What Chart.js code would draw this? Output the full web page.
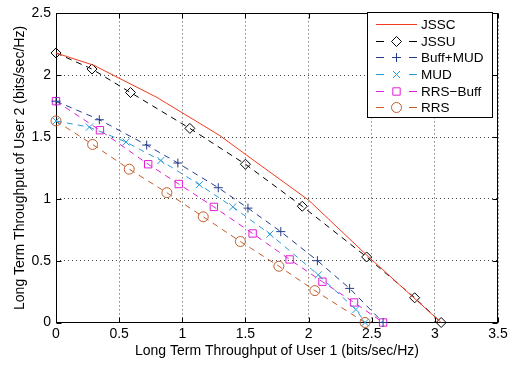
<!DOCTYPE html>
<html lang="en">
<head>
<meta charset="UTF-8">
<title>Long Term Throughput Region</title>
<script src="https://cdn.jsdelivr.net/npm/chart.js"></script>
<style>
  body { margin: 0; background: #fff; }
  .wrap { position: relative; width: 518px; height: 367px; }
</style>
</head>
<body>
<div class="wrap"><canvas id="chart" width="518" height="367"></canvas></div>
<script>
// Values (x = user 1, y = user 2, bits/sec/Hz)
const seriesNames = ['JSSC', 'JSSU', 'Buff+MUD', 'MUD', 'RRS\u2212Buff', 'RRS'];

const jsscX = [0, 0.3, 0.8, 1.3, 1.5, 2.0, 2.46, 3.05];
const jsscY = [2.18, 2.08, 1.82, 1.51, 1.36, 0.99, 0.545, 0];

const jssuX = [0, 0.285, 0.59, 1.06, 1.5, 1.95, 2.46, 2.84, 3.05];
const jssuY = [2.18, 2.05, 1.86, 1.57, 1.28, 0.94, 0.53, 0.2, 0];

const buffMudX = [0, 0.343, 0.718, 0.965, 1.285, 1.52, 1.78, 2.07, 2.325, 2.59];
const buffMudY = [1.79, 1.64, 1.435, 1.29, 1.09, 0.925, 0.735, 0.5, 0.276, 0];

const mudX = [0, 0.264, 0.554, 0.83, 1.135, 1.40, 1.694, 2.077, 2.375, 2.447];
const mudY = [1.63, 1.58, 1.46, 1.31, 1.115, 0.935, 0.715, 0.385, 0.105, 0];

const rrsBuffX = [0, 0.348, 0.73, 0.972, 1.25, 1.557, 1.85, 2.11, 2.36, 2.59];
const rrsBuffY = [1.79, 1.555, 1.28, 1.12, 0.935, 0.72, 0.51, 0.33, 0.162, 0];

const rrsX = [0, 0.29, 0.58, 0.878, 1.166, 1.46, 1.765, 2.05, 2.447];
const rrsY = [1.63, 1.44, 1.24, 1.05, 0.855, 0.655, 0.455, 0.258, 0];

const xTicks = [0, 0.5, 1, 1.5, 2, 2.5, 3, 3.5];
const yTicks = [0, 0.5, 1, 1.5, 2, 2.5];

const FONT = "Arial, 'Liberation Sans', Helvetica, sans-serif";

// line + marker style per series
const looks = [
  { color: '#f03c1e', dash: [], marker: null, r: 0 },
  { color: '#000000', dash: [6, 5], marker: 'rectRot', r: 5 },
  { color: '#213c8c', dash: [6, 5], marker: 'cross', r: 4.5 },
  { color: '#2b9bd8', dash: [6, 5], marker: 'crossRot', r: 5 },
  { color: '#e01ed6', dash: [6, 5], marker: 'rect', r: 5.2 },
  { color: '#c45c28', dash: [6, 5], marker: 'circle', r: 5 }
];

function pts(xs, ys) {
  return xs.map((v, i) => ({ x: v, y: ys[i] }));
}

const seriesData = [
  pts(jsscX, jsscY), pts(jssuX, jssuY), pts(buffMudX, buffMudY),
  pts(mudX, mudY), pts(rrsBuffX, rrsBuffY), pts(rrsX, rrsY)
];

const datasets = seriesData.map((d, i) => ({
  label: seriesNames[i],
  data: d,
  showLine: true,
  clip: false,
  borderColor: looks[i].color,
  borderWidth: 1,
  borderDash: looks[i].dash,
  pointStyle: looks[i].marker || 'circle',
  pointRadius: looks[i].r,
  pointBorderWidth: 1,
  pointBorderColor: looks[i].color,
  pointBackgroundColor: 'rgba(0,0,0,0)',
  tension: 0
}));

// small marker painter for the legend
function marker(ctx, style, x, y, r) {
  ctx.beginPath();
  if (style === 'rectRot') {
    ctx.moveTo(x - r, y); ctx.lineTo(x, y - r); ctx.lineTo(x + r, y); ctx.lineTo(x, y + r); ctx.closePath();
  } else if (style === 'cross') {
    ctx.moveTo(x - r, y); ctx.lineTo(x + r, y); ctx.moveTo(x, y - r); ctx.lineTo(x, y + r);
  } else if (style === 'crossRot') {
    const o = r * Math.SQRT1_2;
    ctx.moveTo(x - o, y - o); ctx.lineTo(x + o, y + o); ctx.moveTo(x + o, y - o); ctx.lineTo(x - o, y + o);
  } else if (style === 'rect') {
    const o = r * Math.SQRT1_2;
    ctx.rect(x - o, y - o, 2 * o, 2 * o);
  } else if (style === 'circle') {
    ctx.arc(x, y, r, 0, Math.PI * 2);
  }
  ctx.stroke();
}

// box, inward ticks on all sides, legend
const frame = {
  id: 'frame',
  beforeDatasetsDraw(chart) {
    const { ctx, chartArea: a, scales: { x, y } } = chart;
    ctx.save();
    ctx.strokeStyle = '#000';
    ctx.lineWidth = 1;
    ctx.setLineDash([]);
    const L = Math.round(a.left) + 0.5, R = Math.round(a.right) - 0.5;
    const T = Math.round(a.top) + 0.5, B = Math.round(a.bottom) - 0.5;
    ctx.strokeRect(L, T, R - L, B - T);
    ctx.beginPath();
    xTicks.forEach(v => {
      const p = Math.round(x.getPixelForValue(v)) + 0.5;
      ctx.moveTo(p, B); ctx.lineTo(p, B - 5);
      ctx.moveTo(p, T); ctx.lineTo(p, T + 5);
    });
    yTicks.forEach(v => {
      const p = Math.round(y.getPixelForValue(v)) + 0.5;
      ctx.moveTo(L, p); ctx.lineTo(L + 5, p);
      ctx.moveTo(R, p); ctx.lineTo(R - 5, p);
    });
    ctx.stroke();
    ctx.restore();
  },
  afterDraw(chart) {
    const { ctx } = chart;
    ctx.save();
    ctx.lineWidth = 1;
    ctx.setLineDash([]);
    // legend box
    const bx = 367.5, by = 12.5, bw = 125, bh = 105;
    ctx.fillStyle = '#fff';
    ctx.strokeStyle = '#000';
    ctx.fillRect(bx, by, bw, bh);
    ctx.strokeRect(bx, by, bw, bh);
    ctx.font = '13.5px ' + FONT;
    ctx.textBaseline = 'middle';
    ctx.textAlign = 'left';
    seriesNames.forEach((name, i) => {
      const ry = Math.round(24 + i * 16.65) + 0.5;
      const c = looks[i].color;
      ctx.strokeStyle = c;
      ctx.beginPath();
      if (!looks[i].marker) {
        ctx.moveTo(376, ry); ctx.lineTo(417, ry);
      } else {
        ctx.moveTo(376, ry); ctx.lineTo(384, ry);
        ctx.moveTo(409, ry); ctx.lineTo(417, ry);
      }
      ctx.stroke();
      if (looks[i].marker) marker(ctx, looks[i].marker, 396.5, ry, looks[i].r);
      ctx.fillStyle = '#000';
      ctx.fillText(name, 421, ry + 0.5);
    });
    ctx.restore();
  }
};

new Chart(document.getElementById('chart'), {
  type: 'scatter',
  data: { datasets: datasets },
  options: {
    responsive: false,
    animation: false,
    devicePixelRatio: 1,
    layout: { padding: { top: 5, right: 20, left: 0, bottom: 0 } },
    plugins: { legend: { display: false }, tooltip: { enabled: false } },
    scales: {
      x: {
        type: 'linear',
        min: 0, max: 3.5,
        afterBuildTicks: s => { s.ticks = xTicks.map(v => ({ value: v })); },
        afterFit: s => { s.height = 44.5; },
        ticks: { color: '#000', padding: 3, font: { family: FONT, size: 14 }, callback: v => String(v) },
        grid: { color: 'rgba(0,0,0,0.75)', drawTicks: false, lineWidth: 1 },
        border: { display: false, dash: [1, 3] },
        title: { display: true, text: 'Long Term Throughput of User 1 (bits/sec/Hz)', color: '#000',
                 font: { family: FONT, size: 14 }, padding: { top: 0, bottom: 7 } }
      },
      y: {
        type: 'linear',
        min: 0, max: 2.5,
        afterBuildTicks: s => { s.ticks = yTicks.map(v => ({ value: v })); },
        afterFit: s => { s.width = 56; },
        ticks: { color: '#000', padding: 5, font: { family: FONT, size: 14 }, callback: v => String(v) },
        grid: { color: 'rgba(0,0,0,0.75)', drawTicks: false, lineWidth: 1 },
        border: { display: false, dash: [1, 3] },
        title: { display: true, text: 'Long Term Throughput of User 2 (bits/sec/Hz)', color: '#000',
                 font: { family: FONT, size: 14 }, padding: { top: 12, bottom: 0 } }
      }
    }
  },
  plugins: [frame]
});
</script>
</body>
</html>
